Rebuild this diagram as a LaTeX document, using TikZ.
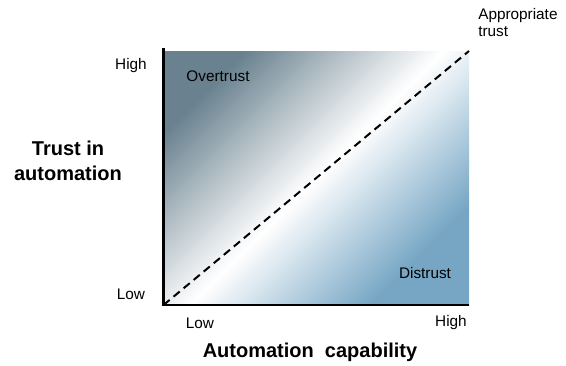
\documentclass[tikz,border=0pt]{standalone}
\usepackage{fontspec}
\setmainfont{Liberation Sans}
\usetikzlibrary{positioning}
\definecolor{overgray}{HTML}{6A8290}
\definecolor{distblue}{HTML}{76A6C4}
\pgfdeclarehorizontalshading{trustshade}{100bp}{color(0bp)=(overgray); color(25bp)=(overgray); color(50bp)=(white); color(73bp)=(distblue); color(100bp)=(distblue)}
\begin{document}
\begin{tikzpicture}[x=0.75pt,y=0.75pt]
      \tikzstyle{lbl}=[font=\fontsize{11.5}{13}\selectfont,inner sep=0pt]
      \tikzstyle{axtitle}=[font=\fontsize{15}{19}\selectfont\bfseries,align=center,inner sep=0pt]
      \tikzstyle{axis}=[line width=2.2pt]
      \tikzstyle{fair}=[line width=1.5pt,dash pattern=on 6pt off 3.8pt]
      \useasboundingbox (0,0) rectangle (566,365);
      \coordinate (o) at (163.5,60);
      \coordinate (xe) at (469,60);
      \coordinate (ye) at (163.5,317);
      \coordinate (tr) at (469,314);
      \shade[shading=trustshade,shading angle=-45] (o) rectangle (tr);
      \draw[fair] (o) -- (tr);
      \draw[axis] (ye) -- (o) -- (xe);
      \node[lbl] (yhigh) at (131,299) {High};
      \node[lbl] (ylow) at (131,71) {Low};
      \node[lbl] (xlow) at (200,42) {Low};
      \node[lbl] (xhigh) at (451,42) {High};
      \node[lbl] (over) at (218,289) {Overtrust};
      \node[lbl] (dis) at (425,92) {Distrust};
      \node[lbl,align=left,anchor=north west] (fit) at (478,357) {Appropriate\\trust};
      \node[axtitle] (ytitle) at (68,204) {Trust in\\automation};
      \node[axtitle] (xtitle) at (310,13) {Automation\ \ capability};
\end{tikzpicture}
\end{document}
